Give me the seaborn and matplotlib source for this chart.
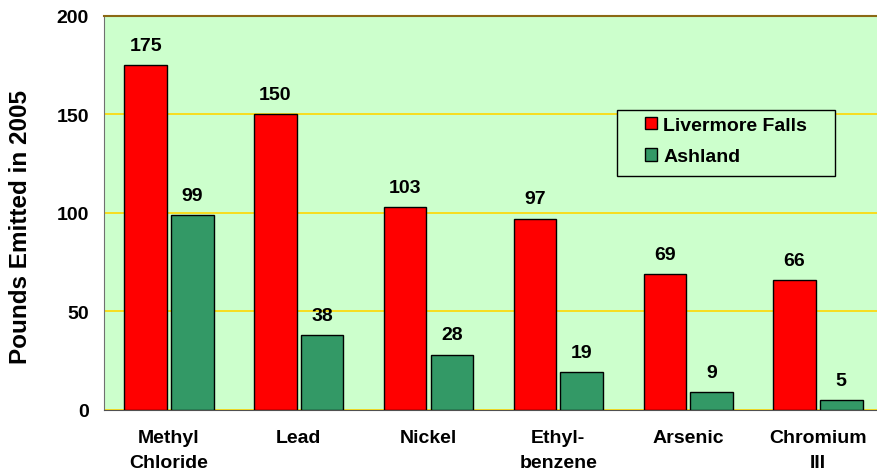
import matplotlib
matplotlib.use("Agg")
import matplotlib.pyplot as plt
import seaborn as sns
import pandas as pd
import numpy as np
from matplotlib.patches import Patch, Rectangle

categories = ["Methyl\nChloride", "Lead", "Nickel", "Ethyl-\nbenzene", "Arsenic", "Chromium\nIII"]
livermore = [175, 150, 103, 97, 69, 66]
ashland = [99, 38, 28, 19, 9, 5]
series = ["Livermore Falls", "Ashland"]
colors = ["#FF0000", "#339966"]

df = pd.DataFrame({
    "cat": categories * 2,
    "val": livermore + ashland,
    "series": [series[0]] * len(categories) + [series[1]] * len(categories),
})

sns.set_style("white")
plt.rcParams["font.family"] = ["Liberation Sans", "DejaVu Sans"]
plt.rcParams["font.weight"] = "bold"
plt.rcParams["text.color"] = "black"
plt.rcParams["axes.labelcolor"] = "black"
plt.rcParams["xtick.labelcolor"] = "black"
plt.rcParams["ytick.labelcolor"] = "black"

fig = plt.figure(figsize=(8.78, 4.77), dpi=100)
ax = fig.add_axes([0.1185, 0.139, 0.887, 0.826])
ax.set_facecolor("#CCFFCC")

sns.barplot(data=df, x="cat", y="val", hue="series", hue_order=series,
            palette=colors, width=0.72, gap=0.09, edgecolor="black",
            linewidth=1, ax=ax, legend=False, zorder=3, saturation=1)

ax.set_ylim(0, 200)
ax.set_xlim(-0.5, 5.5)
ax.set_yticks([0, 50, 100, 150, 200])
ax.yaxis.grid(True, color="#FFD700", linewidth=1.2, zorder=0)
ax.set_axisbelow(True)

for cont in ax.containers:
    for rect in cont:
        h = rect.get_height()
        ax.annotate(f"{int(h)}", (rect.get_x() + rect.get_width() / 2, h),
                    xytext=(0, 8), textcoords="offset points",
                    ha="center", va="bottom", fontsize=14, fontweight="bold",
                    color="black")

ax.set_xlabel("")
ax.set_ylabel("Pounds Emitted in 2005", fontsize=17.5, fontweight="bold", va="center",
              color="black")
ax.yaxis.set_label_coords(-0.107, 0.465)
ax.set_xticks(range(len(categories)))
ax.set_xticklabels(categories, linespacing=1.6, fontweight="bold", color="black")
ax.tick_params(axis="x", which="major", length=0, pad=14, labelsize=14)
ax.set_xticks(np.arange(-0.5, 6.0, 1.0), minor=True)
ax.tick_params(axis="x", which="minor", length=4, color="#707070", width=1, direction="out")
ax.tick_params(axis="y", length=5, color="#707070", width=1, direction="out", labelsize=14,
               pad=6, labelcolor="black")
for lbl in ax.get_yticklabels():
    lbl.set_fontweight("bold")

ax.spines["right"].set_visible(False)
ax.spines["top"].set_color("#8B6914")
ax.spines["top"].set_linewidth(1.5)
ax.spines["left"].set_color("#707070")
ax.spines["bottom"].set_color("#505050")

# legend frame
ax.add_patch(Rectangle((0.659, 0.593), 0.28, 0.168, transform=ax.transAxes,
                       facecolor="#CCFFCC", edgecolor="black", linewidth=1, zorder=5))
handles = [Patch(facecolor=c, edgecolor="black", label=s) for c, s in zip(colors, series)]
leg = ax.legend(handles=handles, loc="upper left", bbox_to_anchor=(0.695, 0.744),
                frameon=False, prop={"size": 14, "weight": "bold"},
                handlelength=0.62, handleheight=0.62, handletextpad=0.3,
                borderpad=0, labelspacing=0.75, borderaxespad=0)
for t in leg.get_texts():
    t.set_color("black")
leg.set_zorder(6)

fig.savefig("out.png", dpi=100)
